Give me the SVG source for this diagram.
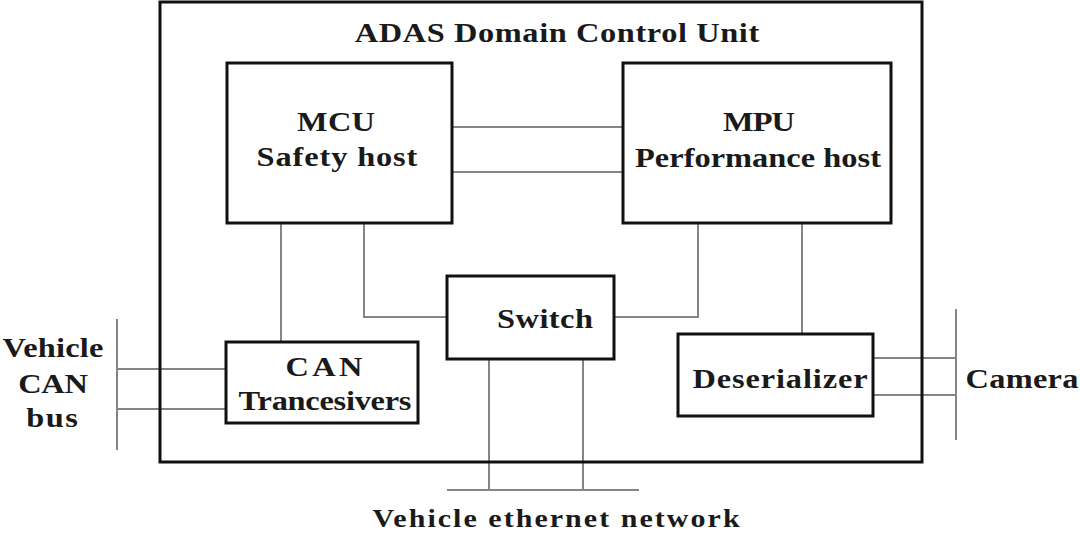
<svg xmlns="http://www.w3.org/2000/svg" width="1080" height="537" viewBox="0 0 1080 537">
<style>
.box{fill:#fff;stroke:#111;stroke-width:3}
.outer{fill:none;stroke:#111;stroke-width:3}
.ln{fill:none;stroke:#858585;stroke-width:2}
.t{font-family:"Liberation Serif","Times New Roman",serif;font-weight:bold;fill:#1a1a1a;text-anchor:middle;font-size:27px}
</style>
<rect width="1080" height="537" fill="#fff"/>
<g id="connectors">
<line class="ln" x1="452" y1="127" x2="622" y2="127"/>
<line class="ln" x1="452" y1="172" x2="622" y2="172"/>
<line class="ln" x1="281" y1="223" x2="281" y2="342"/>
<polyline class="ln" points="364,223 364,317 447,317"/>
<polyline class="ln" points="614,317 698,317 698,223"/>
<line class="ln" x1="802" y1="223" x2="802" y2="334"/>
<line class="ln" x1="489" y1="359" x2="489" y2="490"/>
<line class="ln" x1="583" y1="359" x2="583" y2="490"/>
<line class="ln" x1="447" y1="490" x2="639" y2="490"/>
<line class="ln" x1="117" y1="369" x2="226" y2="369"/>
<line class="ln" x1="117" y1="409" x2="226" y2="409"/>
<line class="ln" x1="117" y1="319" x2="117" y2="450"/>
<line class="ln" x1="873" y1="358" x2="956" y2="358"/>
<line class="ln" x1="873" y1="395" x2="956" y2="395"/>
<line class="ln" x1="956" y1="309" x2="956" y2="440"/>
</g>
<g id="adas-dcu">
<rect class="outer" x="160" y="2" width="762" height="460"/>
<text class="t" transform="translate(557,42) scale(1.2,1)" textLength="337" lengthAdjust="spacing">ADAS Domain Control Unit</text>
</g>
<g id="mcu">
<rect class="box" x="227" y="63" width="225" height="160"/>
<text class="t" transform="translate(336,131) scale(1.2,1)" textLength="65" lengthAdjust="spacing">MCU</text>
<text class="t" transform="translate(337,166) scale(1.2,1)" textLength="134" lengthAdjust="spacing">Safety host</text>
</g>
<g id="mpu">
<rect class="box" x="623" y="63" width="268" height="160"/>
<text class="t" transform="translate(759,131) scale(1.2,1)" textLength="60" lengthAdjust="spacing">MPU</text>
<text class="t" transform="translate(758,167) scale(1.2,1)" textLength="205" lengthAdjust="spacing">Performance host</text>
</g>
<g id="switch">
<rect class="box" x="447" y="276" width="167" height="83"/>
<text class="t" transform="translate(545,328) scale(1.2,1)" textLength="80" lengthAdjust="spacing">Switch</text>
</g>
<g id="can">
<rect class="box" x="226" y="342" width="192" height="81"/>
<text class="t" transform="translate(324,376) scale(1.2,1)" textLength="64" lengthAdjust="spacing">CAN</text>
<text class="t" transform="translate(325,410) scale(1.2,1)" textLength="144" lengthAdjust="spacing">Trancesivers</text>
</g>
<g id="deserializer">
<rect class="box" x="678" y="334" width="195" height="82"/>
<text class="t" transform="translate(780,388) scale(1.2,1)" textLength="146" lengthAdjust="spacing">Deserializer</text>
</g>
<g id="vehicle-can-bus">
<text class="t" transform="translate(53,357) scale(1.2,1)" textLength="84" lengthAdjust="spacing">Vehicle</text>
<text class="t" transform="translate(53,393) scale(1.2,1)" textLength="58" lengthAdjust="spacing">CAN</text>
<text class="t" transform="translate(52,427) scale(1.2,1)" textLength="43" lengthAdjust="spacing">bus</text>
</g>
<g id="camera">
<text class="t" transform="translate(1022,388) scale(1.2,1)" textLength="94" lengthAdjust="spacing">Camera</text>
</g>
<g id="ethernet">
<text class="t" style="font-size:25px" transform="translate(556,527) scale(1.2,1)" textLength="306" lengthAdjust="spacing">Vehicle ethernet network</text>
</g>
</svg>
